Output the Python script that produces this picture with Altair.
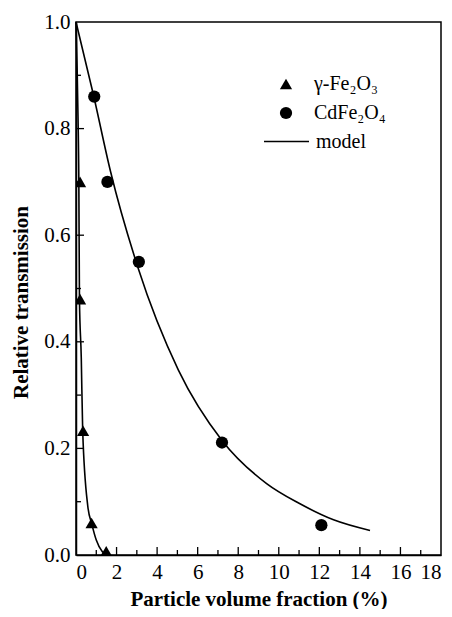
import altair as alt
import pandas as pd

# CdFe2O4 measured points
cd_x = [0.9, 1.55, 3.1, 7.2, 12.1]
cd_y = [0.86, 0.70, 0.55, 0.211, 0.056]
# gamma-Fe2O3 measured points
g_x = [0.2, 0.2, 0.35, 0.77, 1.49]
g_y = [0.70, 0.48, 0.233, 0.06, 0.007]
# model curves
cd_model_x = [0, 0.85, 1.7, 3.05, 5.05, 7.2, 9.4, 11.0, 12.7, 14.5]
cd_model_y = [1.0, 0.865, 0.72, 0.54, 0.347, 0.215, 0.134, 0.097, 0.066, 0.046]
g_model_x = [0, 0.1, 0.14, 0.17, 0.26, 0.33, 0.58, 0.78, 1.0, 1.3, 1.55]
g_model_y = [1.0, 0.82, 0.70, 0.48, 0.37, 0.233, 0.092, 0.058, 0.028, 0.006, 0.0]

names = ["γ-Fe₂O₃", "CdFe₂O₄"]
model_name = "model"
x_major = [0, 2, 4, 6, 8, 10, 12, 14, 16, 18]
x_minor = [1, 3, 5, 7, 9, 11, 13, 15, 17]
y_major = [0.0, 0.2, 0.4, 0.6, 0.8, 1.0]
y_minor = [0.1, 0.3, 0.5, 0.7, 0.9]

W, H = 365, 533
FONT = "Liberation Serif"

pts = pd.DataFrame({
    "x": g_x + cd_x,
    "y": g_y + cd_y,
    "series": [names[0]] * len(g_x) + [names[1]] * len(cd_x),
})
mdl = pd.DataFrame({
    "x": g_model_x + cd_model_x,
    "y": g_model_y + cd_model_y,
    "curve": ["g"] * len(g_model_x) + ["cd"] * len(cd_model_x),
    "order": list(range(len(g_model_x))) + list(range(len(cd_model_x))),
    "lab": [model_name] * (len(g_model_x) + len(cd_model_x)),
})

xs = alt.Scale(domain=[0, 18], nice=False)
ys = alt.Scale(domain=[0, 1], nice=False)

xaxis = alt.Axis(values=x_major, format="d", tickSize=0, domainColor="black",
                 domainWidth=1.5, labelFont=FONT, labelFontSize=21, labelColor="black",
                 labelPadding=6, title="Particle volume fraction (%)", titleFont=FONT,
                 titleFontSize=21, titleFontWeight="bold", titleColor="black",
                 titlePadding=6, grid=False)
yaxis = alt.Axis(values=y_major, format=".1f", tickSize=0, domainColor="black",
                 domainWidth=1.5, labelFont=FONT, labelFontSize=21, labelColor="black",
                 labelPadding=6, title="Relative transmission", titleFont=FONT,
                 titleFontSize=21, titleFontWeight="bold", titleColor="black",
                 titlePadding=12, titleY=280, grid=False)

lines = alt.Chart(mdl).mark_line(strokeWidth=1.6, interpolate="monotone").encode(
    x=alt.X("x:Q", scale=xs, axis=xaxis),
    y=alt.Y("y:Q", scale=ys, axis=yaxis),
    detail="curve:N",
    order="order:Q",
    stroke=alt.Stroke("lab:N", scale=alt.Scale(domain=[model_name], range=["black"]),
                      legend=alt.Legend(orient="none", legendX=187, legendY=96, title=None,
                                        labelFont=FONT, labelFontSize=20, labelColor="black",
                                        symbolType="stroke", symbolSize=2025,
                                        symbolStrokeWidth=1.6, labelOffset=6, padding=0)),
)

points = alt.Chart(pts).mark_point(filled=True, color="black", size=150, opacity=1, clip=True).encode(
    x=alt.X("x:Q", scale=xs),
    y=alt.Y("y:Q", scale=ys),
    shape=alt.Shape("series:N", scale=alt.Scale(domain=names, range=["triangle-up", "circle"]),
                    legend=alt.Legend(orient="none", legendX=200, legendY=52, title=None,
                                      labelFont=FONT, labelFontSize=20, labelColor="black",
                                      symbolFillColor="black", symbolSize=150, labelOffset=18,
                                      rowPadding=9, padding=0)),
)

xt_major = pd.DataFrame({"v": x_major[1:-1]})
xt_minor = pd.DataFrame({"v": x_minor})
yt_major = pd.DataFrame({"v": y_major[1:-1]})
yt_minor = pd.DataFrame({"v": y_minor})

tk = dict(color="black", strokeWidth=1.3)
xt1 = alt.Chart(xt_major).mark_rule(**tk).encode(x=alt.X("v:Q", scale=xs), y=alt.value(H), y2=alt.value(H - 8))
xt2 = alt.Chart(xt_minor).mark_rule(**tk).encode(x=alt.X("v:Q", scale=xs), y=alt.value(H), y2=alt.value(H - 5))
yt1 = alt.Chart(yt_major).mark_rule(**tk).encode(y=alt.Y("v:Q", scale=ys), x=alt.value(0), x2=alt.value(8))
yt2 = alt.Chart(yt_minor).mark_rule(**tk).encode(y=alt.Y("v:Q", scale=ys), x=alt.value(0), x2=alt.value(5))

chart = alt.layer(lines, points, xt1, xt2, yt1, yt2).properties(
    width=W, height=H, padding={"top": 14, "left": 68, "right": 3, "bottom": 54},
    autosize=alt.AutoSizeParams(type="none"),
    background="white",
).configure_view(stroke="black", strokeWidth=1.5)

chart.save("out.html", embed_options={"renderer": "svg", "actions": False})
